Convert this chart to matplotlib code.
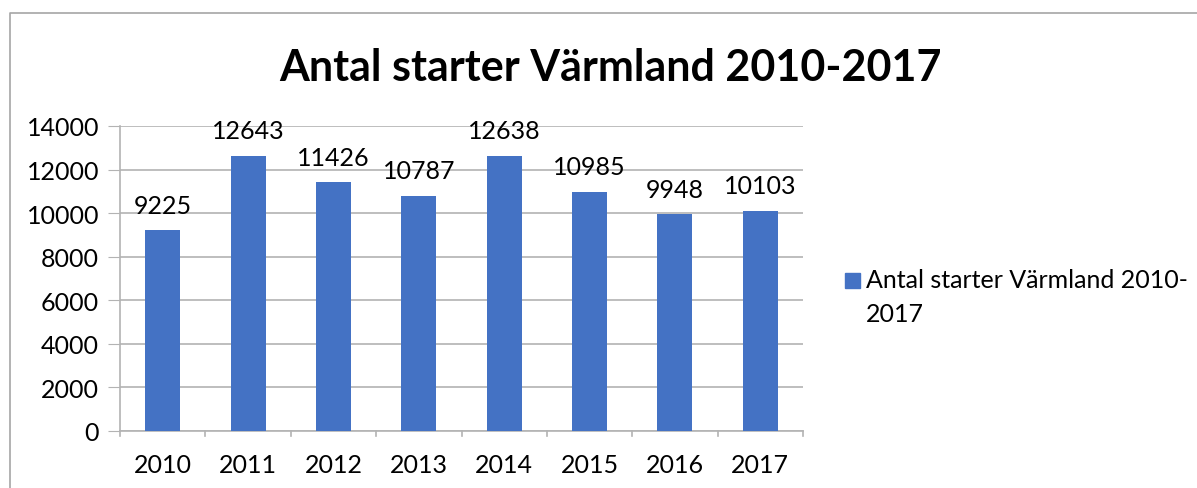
import matplotlib.pyplot as plt
import matplotlib.lines as lns

years = ['2010', '2011', '2012', '2013', '2014', '2015', '2016', '2017']
starter = [9225, 12643, 11426, 10787, 12638, 10985, 9948, 10103]
series_name = 'Antal starter Värmland 2010-2017'
title = 'Antal starter Värmland 2010-2017'

plt.rcParams['font.family'] = ['Lato', 'DejaVu Sans']
fs = 18

fig = plt.figure(figsize=(11.97, 4.89), dpi=100)
ax = fig.add_axes([120 / 1197, 57 / 489, 683 / 1197, 305 / 489])

x = range(len(years))
ax.bar(x, starter, width=0.41, color='#4472C4', zorder=3)
for xi, v in zip(x, starter):
    ax.text(xi, v + 620, str(v), ha='center', va='bottom', fontsize=fs, color='black')

ax.set_xlim(-0.5, len(years) - 0.5)
ax.set_ylim(0, 14000)
ax.set_yticks(range(0, 14001, 2000))
ax.set_xticks(x)
ax.set_xticklabels(years)
ax.yaxis.grid(True, color='#b3b3b3', linewidth=1.2, zorder=0)
for s in ['top', 'right']:
    ax.spines[s].set_visible(False)
ax.spines['left'].set_color('#b3b3b3')
ax.spines['bottom'].set_color('#b3b3b3')
ax.spines['left'].set_linewidth(1.2)
ax.spines['bottom'].set_linewidth(1.2)
ax.tick_params(axis='y', length=9, color='#b3b3b3', labelsize=fs, pad=6)
ax.tick_params(axis='x', length=0, labelsize=fs, pad=16)
# category tick marks between bars
for b in [i - 0.5 for i in range(len(years) + 1)]:
    ax.plot([b, b], [0, -250], color='#b3b3b3', linewidth=1.2, clip_on=False)

fig.text(610 / 1197, 1 - 68 / 489, title, ha='center', va='center',
         fontsize=31, fontweight='bold')

# legend
fig.patches.append(plt.Rectangle((845 / 1197, 1 - 289 / 489), 15 / 1197, 15 / 489,
                                 transform=fig.transFigure, color='#4472C4'))
fig.text(866 / 1197, 1 - 281 / 489, 'Antal starter Värmland 2010-', ha='left', va='center', fontsize=fs)
fig.text(866 / 1197, 1 - 314 / 489, '2017', ha='left', va='center', fontsize=fs)

# chart frame (left and top edge)
fig.lines.append(lns.Line2D([10 / 1197, 10 / 1197, 1], [0, 1 - 14 / 489, 1 - 14 / 489],
                            transform=fig.transFigure, color='#a6a6a6', linewidth=1.2))

fig.savefig('out.png', dpi=100)
